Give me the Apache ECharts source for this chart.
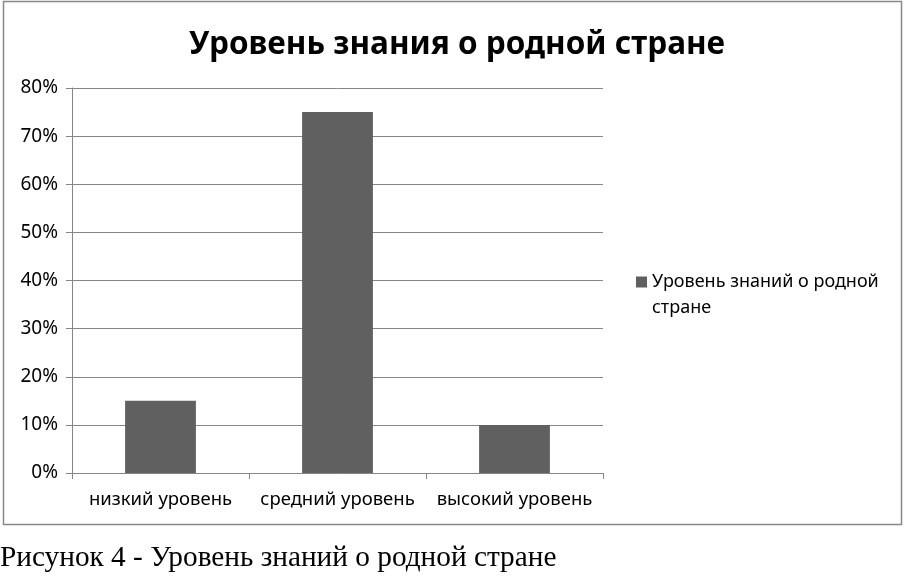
<!DOCTYPE html>
<html>
<head>
    <meta charset="utf-8">
    <title>Уровень знания о родной стране</title>
    <script src="https://cdn.jsdelivr.net/npm/echarts@6/dist/echarts.min.js"></script>
    <style>
        html, body { margin: 0; padding: 0; background: #fff; }
        #mychat { width: 904px; height: 576px; }
    </style>
</head>
<body>
<div id="mychat"></div>
<script>
    // данные
    var categories = ['низкий уровень', 'средний уровень', 'высокий уровень'];
    var values = [15, 75, 10];
    var seriesName = 'Уровень знаний о родной стране';
    var titleText = 'Уровень знания о родной стране';
    var captionText = 'Рисунок 4 - Уровень знаний о родной стране';

    var font = '"Noto Sans", sans-serif';
    var myChart = echarts.init(document.getElementById('mychat'));
    var option = {
        animation: false,
        title: {
            text: titleText,
            top: 24,
            left: 452,
            textAlign: 'center',
            textStyle: { fontFamily: font, fontSize: 31.5, fontWeight: 'bold', color: '#000' }
        },
        legend: {
            left: 631,
            top: 264,
            orient: 'vertical',
            itemWidth: 11,
            itemHeight: 52,
            // квадрат напротив первой строки подписи
            icon: 'path://M0,7.5L11,7.5L11,18.5L0,18.5Z M0,0L0.001,0 M0,52L0.001,52',
            formatter: function () { return 'Уровень знаний о родной\nстране'; },
            textStyle: { fontFamily: font, fontSize: 18, color: '#000', lineHeight: 26 }
        },
        grid: { left: 72, right: 301, top: 88, bottom: 103, containLabel: false },
        xAxis: {
            type: 'category',
            data: categories,
            axisLine: { lineStyle: { color: '#868686' } },
            axisTick: { show: true, alignWithLabel: false, length: 6, lineStyle: { color: '#868686' } },
            axisLabel: { fontFamily: font, fontSize: 18.5, color: '#000', margin: 17, interval: 0 }
        },
        yAxis: {
            type: 'value',
            min: 0,
            max: 80,
            interval: 10,
            axisLine: { show: true, lineStyle: { color: '#868686' } },
            axisTick: { show: true, length: 6, lineStyle: { color: '#868686' } },
            splitLine: { lineStyle: { color: '#868686' } },
            axisLabel: { fontFamily: font, fontSize: 19, color: '#000', margin: 14, formatter: '{value}%' }
        },
        series: [{
            name: seriesName,
            type: 'bar',
            data: values,
            barWidth: '40%',
            itemStyle: { color: '#606060' }
        }],
        graphic: [
            {
                type: 'rect',
                shape: { x: 3.5, y: 1.5, width: 898, height: 523 },
                style: { fill: 'none', stroke: '#888', lineWidth: 1.5 },
                silent: true
            },
            {
                type: 'text',
                left: 0,
                top: 544,
                style: { text: captionText, fontFamily: '"Liberation Serif", serif', fontSize: 29.3, fill: '#000' }
            }
        ]
    };
    myChart.setOption(option);
</script>
</body>
</html>
